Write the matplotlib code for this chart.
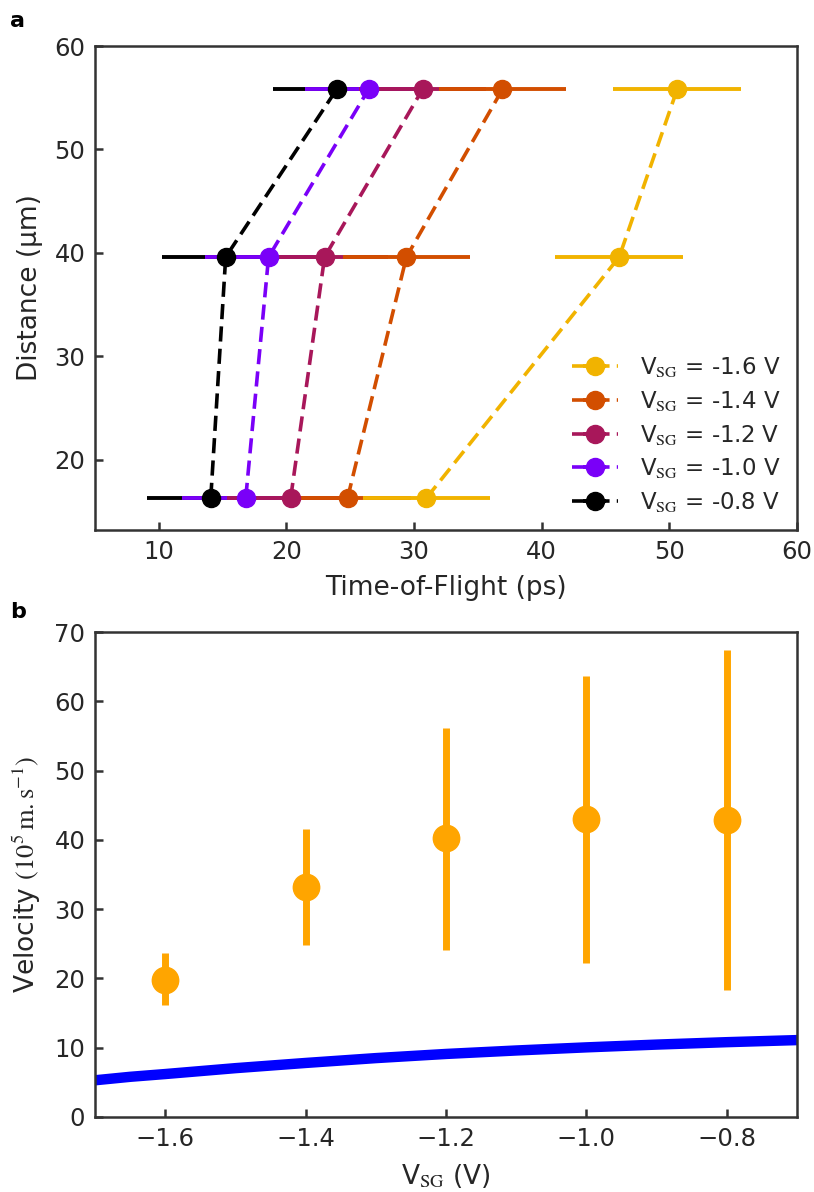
import matplotlib
matplotlib.use("Agg")
import matplotlib.pyplot as plt
import numpy as np

plt.rcParams['font.family'] = ['DejaVu Sans']
plt.rcParams['mathtext.fontset'] = 'stix'

# ---- Panel a data ----
distances = [16.3, 39.6, 55.8]
vsg_labels = ['-1.6', '-1.4', '-1.2', '-1.0', '-0.8']
tof_m16 = [30.97, 46.07, 50.61]
tof_m14 = [24.79, 29.40, 36.92]
tof_m12 = [20.33, 22.99, 30.66]
tof_m10 = [16.81, 18.60, 26.43]
tof_m08 = [14.07, 15.24, 23.93]
tof_err = [5.0, 5.0, 5.0]
colors_a = ['#F1B300', '#D24E00', '#A8175A', '#7A00F8', '#000000']

# ---- Panel b data ----
vsg = [-1.6, -1.4, -1.2, -1.0, -0.8]
velocity = [19.8, 33.2, 40.2, 43.0, 42.9]
vel_low = [16.1, 24.8, 24.1, 22.2, 18.3]
vel_high = [23.6, 41.6, 56.2, 63.6, 67.4]
theory_v = [-1.7, -1.65, -1.6, -1.5, -1.4, -1.3, -1.2, -1.1, -1.0, -0.9, -0.8, -0.7]
theory_vel = [5.3, 5.8, 6.2, 7.05, 7.8, 8.5, 9.1, 9.6, 10.05, 10.45, 10.8, 11.1]

text_c = '#262626'
spine_c = '#333333'

fig = plt.figure(figsize=(8.14, 11.92), dpi=100)
ax1 = fig.add_axes([95/814, 1-530/1192, (797-95)/814, (530-46)/1192])
ax2 = fig.add_axes([95/814, 1-1117/1192, (797-95)/814, (1117-632)/1192])

series = [tof_m16, tof_m14, tof_m12, tof_m10, tof_m08]
n = len(series)
for i, (tof, lab, c) in enumerate(zip(series, vsg_labels, colors_a)):
    cont = ax1.errorbar(tof, distances, xerr=tof_err, fmt='o', ls='--',
                        color=c, ms=13, lw=2.6, elinewidth=2.8, capsize=0,
                        dashes=(4.2, 2.0),
                        label=r'V$_{\rm SG}$ = ' + lab + ' V')
    cont[0].set_zorder(5)
    for bl in cont[2]:
        bl.set_zorder(2 + (n - i) * 0.01)

ax1.set_xlim(5, 60)
ax1.set_ylim(13.2, 60)
ax1.set_xticks([10, 20, 30, 40, 50, 60])
ax1.set_yticks([20, 30, 40, 50, 60])
ax1.set_xlabel('Time-of-Flight (ps)', fontsize=19, color=text_c, labelpad=8)
ax1.set_ylabel('Distance (μm)', fontsize=19, color=text_c, labelpad=8)
leg = ax1.legend(loc='lower right', frameon=False, fontsize=16.5,
                 handlelength=2.0, borderaxespad=0.3, labelspacing=0.42,
                 handletextpad=1.0)
for t in leg.get_texts():
    t.set_color(text_c)

# ---- Panel b ----
ax2.plot(theory_v, theory_vel, color='#0000FF', lw=7.5, zorder=2)
yerr = [np.array(velocity) - np.array(vel_low), np.array(vel_high) - np.array(velocity)]
ax2.errorbar(vsg, velocity, yerr=yerr, fmt='o', color='#FFA500', ms=19,
             elinewidth=5, capsize=0, zorder=3)
ax2.set_xlim(-1.7, -0.7)
ax2.set_ylim(0, 70)
ax2.set_xticks([-1.6, -1.4, -1.2, -1.0, -0.8])
ax2.set_xticklabels(['\u22121.6', '\u22121.4', '\u22121.2', '\u22121.0', '\u22120.8'])
ax2.set_yticks([0, 10, 20, 30, 40, 50, 60, 70])
ax2.set_xlabel(r'V$_{\rm SG}$ (V)', fontsize=19, color=text_c, labelpad=8)
ax2.set_ylabel(r'Velocity $(10^5\,\mathrm{m.s}^{-1})$', fontsize=19, color=text_c, labelpad=8)

for ax in (ax1, ax2):
    for s in ax.spines.values():
        s.set_linewidth(1.8)
        s.set_color(spine_c)
    ax.tick_params(direction='in', length=6, width=1.8, labelsize=17.5,
                   colors=spine_c, labelcolor=text_c, pad=7)

fig.text(10/814, 1-27/1192, 'a', fontsize=16, fontweight='bold', color='black')
fig.text(10/814, 1-618/1192, 'b', fontsize=16, fontweight='bold', color='black')

fig.savefig('out.png', dpi=100)
